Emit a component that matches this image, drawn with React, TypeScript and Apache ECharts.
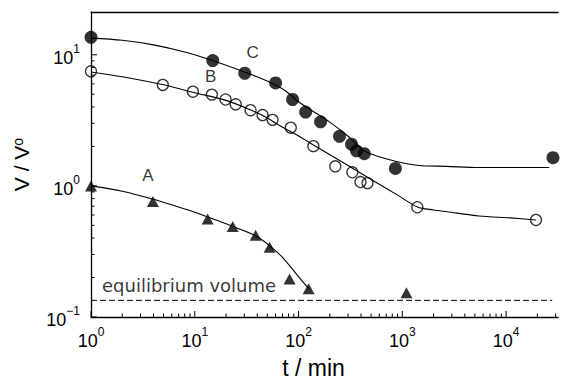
import React, { useEffect, useRef } from "react";
import * as echarts from "echarts";

// ---- measured data (t in min, V/V0) ----
const tA = [1, 3.95, 13.3, 23.2, 38.6, 52.6, 81.9, 125, 1095];
const vA = [1.0, 0.76, 0.56, 0.49, 0.42, 0.34, 0.195, 0.164, 0.153];

const tB = [1, 4.92, 9.6, 14.6, 19.8, 24.8, 34.5, 45.0, 56.2, 84.1, 139, 226, 330, 395, 462, 1394, 19400];
const vB = [7.48, 5.89, 5.23, 4.97, 4.56, 4.19, 3.78, 3.47, 3.19, 2.78, 2.01, 1.41, 1.27, 1.07, 1.05, 0.687, 0.55];

const tC = [1, 14.9, 30.3, 60.1, 87.6, 117, 163, 248, 324, 362, 430, 857, 28300];
const vC = [13.6, 9.03, 7.23, 6.1, 4.56, 3.66, 3.08, 2.39, 2.08, 1.85, 1.76, 1.36, 1.64];

// ---- fitted curves ----
const fitAt = [1, 2, 4, 7, 10, 15, 25, 40, 55, 70, 90, 110, 125];
const fitAv = [1.0, 0.91, 0.79, 0.69, 0.63, 0.56, 0.48, 0.41, 0.34, 0.285, 0.225, 0.185, 0.165];

const fitBt = [1, 2, 5, 10, 20, 35, 50, 65, 100, 150, 300, 540, 900, 1400, 2000, 2700, 5500, 11000, 19400];
const fitBv = [7.4, 6.8, 5.9, 5.14, 4.49, 3.78, 3.3, 2.9, 2.4, 1.98, 1.43, 1.08, 0.85, 0.69, 0.655, 0.635, 0.59, 0.57, 0.55];

const fitCt = [1, 2, 4, 8, 15, 30, 50, 75, 102, 198, 300, 430, 600, 900, 1450, 2660, 5500, 26000];
const fitCv = [13.4, 12.9, 11.9, 10.5, 9.0, 7.4, 6.3, 5.3, 4.33, 3.08, 2.39, 1.85, 1.67, 1.53, 1.43, 1.41, 1.38, 1.38];

const eqVolume = 0.134;
const eqRange = [1, 27800];

// ---- axes ----
const X_MIN = 1;
const X_MAX = 31623;
const Y_MIN = 0.1;
const Y_MAX = 21.2;
const xTicks = [
  1, 2, 3, 4, 5, 6, 7, 8, 9,
  10, 20, 30, 40, 50, 60, 70, 80, 90,
  100, 200, 300, 400, 500, 600, 700, 800, 900,
  1000, 2000, 3000, 4000, 5000, 6000, 7000, 8000, 9000,
  10000, 20000, 30000,
];
const yTicks = [0.1, 0.2, 0.3, 0.4, 0.5, 0.6, 0.7, 0.8, 0.9, 1, 2, 3, 4, 5, 6, 7, 8, 9, 10];

// ---- annotations ----
const curveLabels = [
  { name: "C", t: 36.2, v: 10.5 },
  { name: "B", t: 14.2, v: 6.87 },
  { name: "A", t: 3.53, v: 1.19 },
];
const eqLabel = { name: "equilibrium volume", t: 1.276, v: 0.175 };

const FONT = "'Liberation Sans', Arial, Helvetica, sans-serif";

const isPow10 = (v: number) => {
  const e = Math.log10(v);
  return Math.abs(e - Math.round(e)) < 1e-6;
};
const fmtPow = (val: number) => {
  if (!isPow10(val)) return "";
  const r = Math.round(Math.log10(val));
  return `{b|10}{s|${r < 0 ? "\u2212" + -r : r}}`;
};
const zip = (a: number[], b: number[]) => a.map((x, i) => [x, b[i]]);

const labelRich = {
  b: { fontFamily: FONT, fontSize: 18, lineHeight: 24, verticalAlign: "bottom", color: "#000" },
  s: { fontFamily: FONT, fontSize: 12, lineHeight: 12, verticalAlign: "top", color: "#000" },
};

export default function App() {
  const ref = useRef<HTMLDivElement>(null);
  useEffect(() => {
    if (!ref.current) return;
    const chart = echarts.init(ref.current, undefined, { renderer: "svg" });
    const lineStyle = { color: "#000", width: 1.1 };
    const option: any = {
      animation: false,
      backgroundColor: "#fff",
      grid: { left: 91, right: 1, top: 12, bottom: 59 },
      xAxis: [
        {
          type: "log",
          min: X_MIN,
          max: X_MAX,
          name: "t / min",
          nameLocation: "middle",
          nameGap: 39,
          nameTextStyle: { fontFamily: FONT, fontSize: 23, lineHeight: 24, color: "#000", padding: [0, 22, 0, 0] },
          axisLine: { show: true, lineStyle: { color: "#000", width: 1.3 } },
          axisTick: { show: false },
          splitLine: { show: false },
          minorTick: { show: false },
          axisLabel: { formatter: fmtPow, margin: 9, color: "#000", rich: labelRich, hideOverlap: false },
        },
        {
          type: "log",
          position: "top",
          min: X_MIN,
          max: X_MAX,
          axisLine: { show: true, lineStyle: { color: "#000", width: 1.3 } },
          axisTick: { show: false },
          axisLabel: { show: false },
          splitLine: { show: false },
        },
      ],
      yAxis: {
        type: "log",
        min: Y_MIN,
        max: Y_MAX,
        name: "{b|V / V}{s|o}",
        nameLocation: "middle",
        nameRotate: 90,
        nameGap: 40,
        nameTextStyle: {
          color: "#000",
          rich: {
            b: { fontFamily: FONT, fontSize: 21, lineHeight: 20, verticalAlign: "top", color: "#000" },
            s: { fontFamily: FONT, fontSize: 14, lineHeight: 40, verticalAlign: "top", color: "#000" },
          },
        },
        axisLine: { show: true, lineStyle: { color: "#000", width: 1.3 } },
        axisTick: { show: false },
        splitLine: { show: false },
        axisLabel: { formatter: fmtPow, margin: 11, color: "#000", rich: labelRich },
      },
      series: [
        {
          type: "custom",
          coordinateSystem: "cartesian2d",
          clip: false,
          silent: true,
          data: xTicks.map((v) => [v, Y_MIN]),
          renderItem: (_p: any, api: any) => {
            const v = api.value(0);
            const p = api.coord([v, Y_MIN]);
            const len = isPow10(v) ? 6 : 3.5;
            return {
              type: "line",
              shape: { x1: p[0], y1: p[1], x2: p[0], y2: p[1] - len },
              style: { stroke: "#000", lineWidth: 1 },
            };
          },
        },
        {
          type: "custom",
          coordinateSystem: "cartesian2d",
          clip: false,
          silent: true,
          data: yTicks.map((v) => [X_MIN, v]),
          renderItem: (_p: any, api: any) => {
            const v = api.value(1);
            const p = api.coord([X_MIN, v]);
            const len = isPow10(v) ? 6 : 3.5;
            return {
              type: "line",
              shape: { x1: p[0], y1: p[1], x2: p[0] + len, y2: p[1] },
              style: { stroke: "#000", lineWidth: 1 },
            };
          },
        },
        {
          type: "line",
          data: [[eqRange[0], eqVolume], [eqRange[1], eqVolume]],
          showSymbol: false,
          symbol: "none",
          lineStyle: { color: "#000", width: 1, type: [6, 3] },
        },
        { type: "line", data: zip(fitAt, fitAv), showSymbol: false, symbol: "none", smooth: 0.3, lineStyle },
        { type: "line", data: zip(fitBt, fitBv), showSymbol: false, symbol: "none", smooth: 0.3, lineStyle },
        { type: "line", data: zip(fitCt, fitCv), showSymbol: false, symbol: "none", smooth: 0.3, lineStyle },
        {
          type: "scatter",
          data: zip(tA, vA),
          symbol: "triangle",
          symbolSize: [12, 11],
          clip: false,
          itemStyle: { color: "#000" },
        },
        {
          type: "scatter",
          data: zip(tB, vB),
          symbol: "circle",
          symbolSize: 11,
          clip: false,
          itemStyle: { color: "rgba(255,255,255,0)", borderColor: "#000", borderWidth: 1.3 },
        },
        {
          type: "scatter",
          data: zip(tC, vC),
          symbol: "circle",
          symbolSize: 13,
          clip: false,
          itemStyle: { color: "#000" },
        },
        {
          type: "scatter",
          silent: true,
          symbolSize: 1,
          itemStyle: { color: "rgba(0,0,0,0)" },
          data: curveLabels.map((d) => ({ name: d.name, value: [d.t, d.v] })),
          label: {
            show: true,
            position: "inside",
            formatter: "{b}",
            fontFamily: FONT,
            fontSize: 17,
            color: "#000",
          },
        },
        {
          type: "scatter",
          silent: true,
          symbolSize: 1,
          itemStyle: { color: "rgba(0,0,0,0)" },
          data: [{ name: eqLabel.name, value: [eqLabel.t, eqLabel.v] }],
          label: {
            show: true,
            position: "inside",
            align: "left",
            formatter: "{b}",
            fontFamily: "'DejaVu Sans', sans-serif",
            fontSize: 18,
            color: "#000",
          },
        },
      ],
    };
    chart.setOption(option);
    return () => chart.dispose();
  }, []);
  return (
    <div
      ref={ref}
      style={{ position: "fixed", left: 0, top: 0, width: 561, height: 385, background: "#fff" }}
    />
  );
}
